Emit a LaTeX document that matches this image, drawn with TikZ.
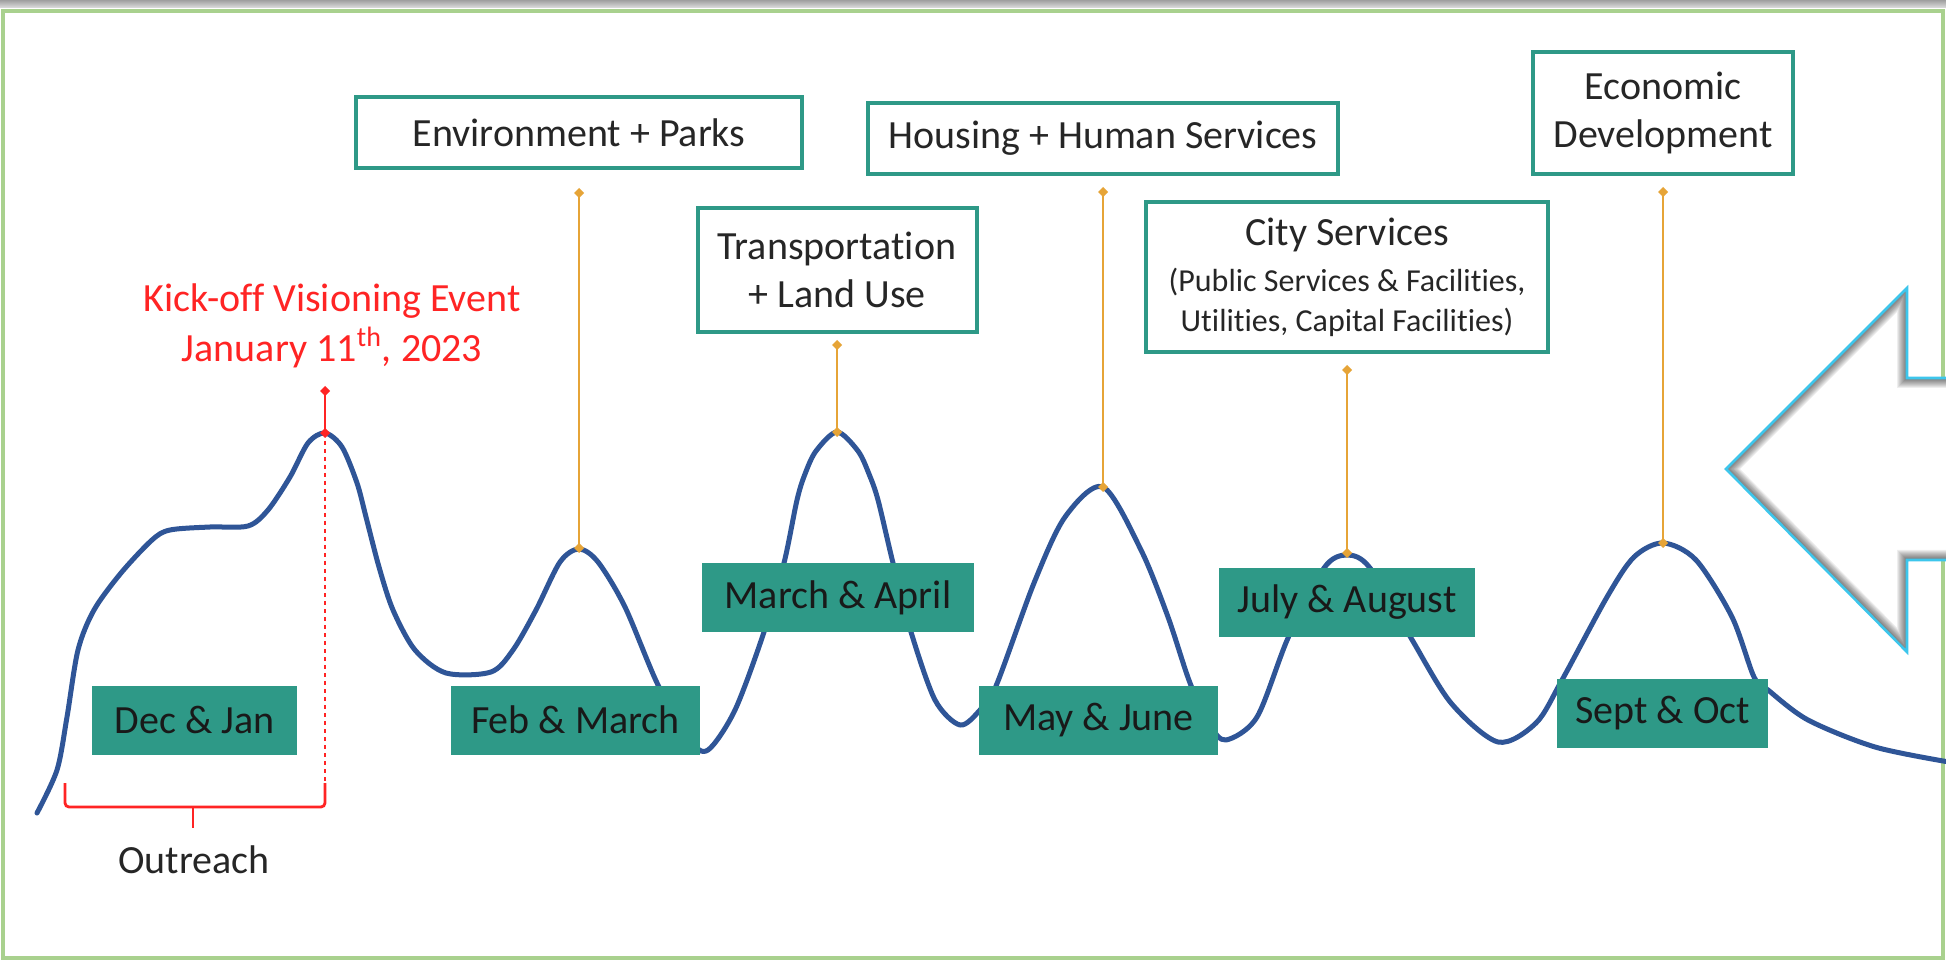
\documentclass[tikz,border=0pt]{standalone}
\usepackage{fontspec}
\setmainfont{Carlito}[Ligatures=NoCommon]
\usetikzlibrary{arrows.meta,positioning,shapes}

\definecolor{tealbox}{HTML}{2E9987}
\definecolor{curveblue}{HTML}{2F5597}
\definecolor{linkorange}{HTML}{E6A437}
\definecolor{kickred}{HTML}{FF2424}
\definecolor{framegreen}{HTML}{A9D18E}
\definecolor{arrowcyan}{HTML}{3DC6EC}
\definecolor{textdark}{HTML}{262626}

\newcommand{\subfont}{\fontsize{16}{19}\selectfont}

\begin{document}
\begin{tikzpicture}[
    x=0.5pt, y=-0.5pt,
    topicbox/.style={rectangle, draw=tealbox, line width=2pt, fill=white, align=center, text=textdark, font=\fontsize{20}{24}\selectfont, inner sep=0pt},
    monthbox/.style={rectangle, fill=tealbox, text=black!90, font=\fontsize{20}{24}\selectfont, inner sep=0pt, minimum height=34.5pt},
    link/.style={draw=linkorange, line width=1.2pt, {Diamond[length=5pt,width=5pt]}-{Diamond[length=5pt,width=5pt]}, shorten <=-2.5pt, shorten >=-2.5pt},
    curve/.style={draw=curveblue, line width=2.5pt, line cap=round, line join=round},
    kicktext/.style={text=kickred, align=center, font=\fontsize{20}{25}\selectfont},
    bracket/.style={draw=kickred, line width=1.4pt, rounded corners=2pt}
]

\useasboundingbox (0,0) rectangle (1946,961);
\fill[white] (0,0) rectangle (1946,961);

% Frame
\fill[top color=gray!75, bottom color=gray!25] (0,0) rectangle (1946,8);
\draw[framegreen, line width=2pt] (3,11) rectangle (1943,958);

% Timeline curve
\draw[curve] plot[smooth, tension=0.5] coordinates {
    (37,813) (57,770) (67,717) (78,650) (94,610) (121,573) (152,540) (170,530)
    (210,527) (248,526) (268,510) (290,477) (308,443) (325,433) (342,447) (357,483)
    (366,517) (379,567) (393,610) (415,650) (446,673) (491,672) (513,650) (536,610)
    (560,562) (579,549) (598,562) (625,607) (658,685) (690,740) (708,750) (735,710)
    (764,632) (784,563) (797,500) (805,474) (816,451) (837,432) (858,451) (869,474)
    (878,500) (893,563) (911,632) (935,700) (960,725) (980,710) (996,686) (1034,583)
    (1065,517) (1103,487) (1141,550) (1168,617) (1190,683) (1210,725) (1226,740) (1257,717)
    (1288,638) (1324,568) (1347,555) (1370,568) (1411,638) (1451,703) (1498,742) (1536,723)
    (1562,680) (1607,597) (1634,557) (1663,543) (1696,560) (1732,617) (1754,677) (1768,690)
    (1808,720) (1875,747) (1949,762)};

% Peaks
\coordinate (pkkick) at (325,433);
\coordinate (pkenv) at (579,548);
\coordinate (pktrans) at (837,432);
\coordinate (pkhouse) at (1103,487);
\coordinate (pkcity) at (1347,553);
\coordinate (pkecon) at (1663,543);

% Months
\node[monthbox, minimum width=102.5pt] (decjan) at (194.5,720) {Dec \& Jan};
\node[monthbox, minimum width=124.5pt] (febmar) at (575.5,720) {Feb \& March};
\node[monthbox, minimum width=136pt] (marapr) at (838,597.5) {March \& April};
\node[monthbox, minimum width=119.5pt] (mayjun) at (1098.5,720) {May \& June};
\node[monthbox, minimum width=128pt] (julaug) at (1347,602.5) {July \& August};
\node[monthbox, minimum width=105.5pt] (sepoct) at (1662.5,713) {Sept \& Oct};

% Topics
\node[topicbox, minimum width=223pt, minimum height=35.5pt] (env) at (579,132.5) {Environment + Parks};
\node[topicbox, minimum width=235pt, minimum height=35.5pt] (housing) at (1103,138.5) {Housing + Human Services};
\node[topicbox, minimum width=139.5pt, minimum height=62pt] (transport) at (837,270) {Transportation\\+ Land Use};
\node[topicbox, minimum width=201pt, minimum height=75pt] (city) at (1347,277) {City Services\\[-1pt]{\subfont (Public Services \& Facilities,}\\[-4pt]{\subfont Utilities, Capital Facilities)}};
\node[topicbox, minimum width=130pt, minimum height=61pt] (econ) at (1663,113) {Economic\\Development};

% Links
\draw[link] ([yshift=-11.5pt]env.south) -- (pkenv);
\draw[link] ([yshift=-5.5pt]transport.south) -- (pktrans);
\draw[link] ([yshift=-8pt]housing.south) -- (pkhouse);
\draw[link] ([yshift=-8pt]city.south) -- (pkcity);
\draw[link] ([yshift=-8pt]econ.south) -- (pkecon);

% Kick-off event
\node[kicktext] (kick) at (332,326) {Kick-off Visioning Event\\January 11\textsuperscript{th}, 2023};
\coordinate (kicktop) at (325,391);
\draw[link, draw=kickred, line width=0.9pt] (kicktop) -- (pkkick);
\coordinate (brkL) at (65,783);
\coordinate (brkR) at (325,783);
\coordinate (brktip) at (193,828);
\draw[kickred, line width=0.9pt, dash pattern=on 2pt off 2pt] (pkkick) -- (brkR);
\draw[bracket] (brkL) -- (65,807) -- (325,807) -- (brkR);
\draw[bracket] (193,807) -- (brktip);
\node[text=textdark, font=\fontsize{20}{24}\selectfont] (outreach) at (194,860) {Outreach};

% Big arrow
\begin{scope}
\clip (1990,378) -- (1907,378) -- (1907,288) -- (1726,469) -- (1907,652) -- (1907,560) -- (1990,560) -- cycle;
\fill[white] (1726,280) rectangle (1990,660);
\foreach \w in {1,...,10}
    \draw[black, line width=\w pt, opacity=0.065] (1990,378) -- (1907,378) -- (1907,288) -- (1726,469) -- (1907,652) -- (1907,560) -- (1990,560);
\end{scope}
\draw[arrowcyan, line width=1.3pt, line join=miter] (1990,378) -- (1907,378) -- (1907,288) -- (1726,469) -- (1907,652) -- (1907,560) -- (1990,560);

\end{tikzpicture}
\end{document}
